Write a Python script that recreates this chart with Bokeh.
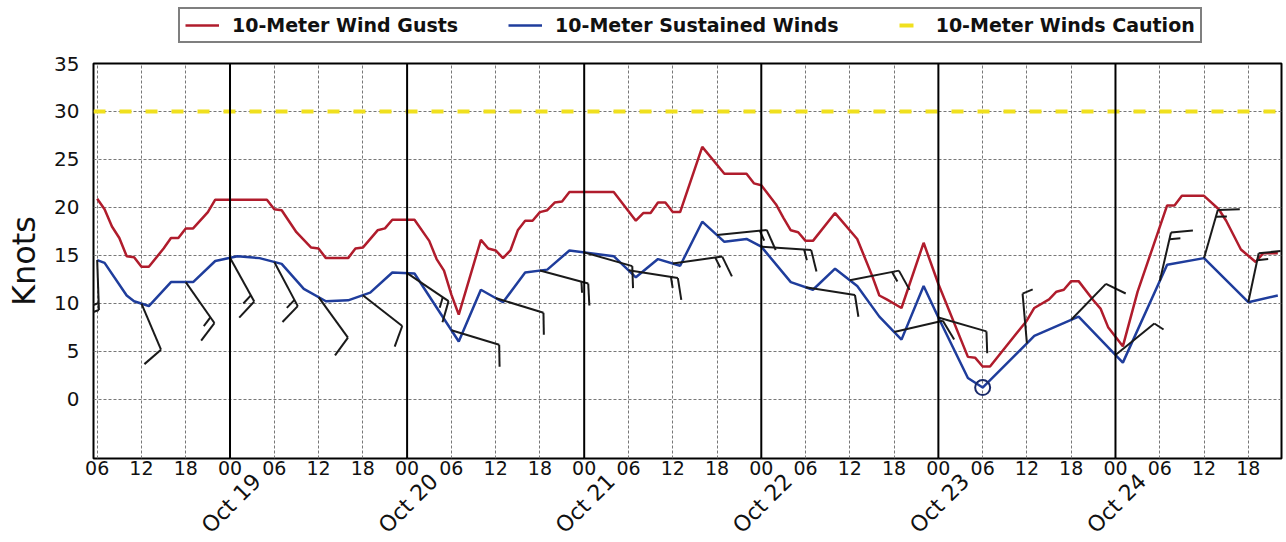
import numpy as np
from bokeh.plotting import figure
from bokeh.layouts import column
from bokeh.models import FixedTicker, Legend, LegendItem, Span, LinearAxis
from bokeh.embed import file_html
from bokeh.resources import INLINE

# ---- data (time = hours since Oct 18 00:00) ----
gust_hours = [6, 7, 8, 9, 10, 11, 12, 13, 15, 16, 17, 18, 19, 21, 22, 29, 30, 31, 33, 35,
              36, 37, 40, 41, 42, 44, 45, 46, 49, 51, 52, 53, 54, 55, 58, 59, 60, 61, 62, 63,
              64, 65, 66, 67, 68, 69, 70, 76, 79, 80, 81, 82, 83, 84, 85, 88, 91, 94, 95, 96,
              98, 99, 100, 101, 102, 103, 106, 109, 111, 112, 113, 115, 118, 120, 124, 125, 126, 127, 132, 133,
              135, 136, 137, 138, 139, 141, 142, 143, 145, 147, 149, 151, 152, 153, 156, 158, 159, 161, 163, 164, 166]
gust_knots = [20.9, 19.8, 18.0, 16.8, 14.9, 14.8, 13.8, 13.8, 15.7, 16.8, 16.8, 17.8, 17.8, 19.5, 20.8, 20.8, 19.8, 19.7, 17.4, 15.8,
              15.7, 14.7, 14.7, 15.7, 15.8, 17.6, 17.8, 18.7, 18.7, 16.5, 14.6, 13.4, 10.9, 8.8, 16.6, 15.7, 15.5, 14.7, 15.5, 17.6,
              18.6, 18.6, 19.5, 19.7, 20.5, 20.6, 21.6, 21.6, 18.6, 19.4, 19.4, 20.5, 20.5, 19.5, 19.5, 26.3, 23.5, 23.5, 22.5, 22.3,
              20.3, 18.9, 17.6, 17.4, 16.5, 16.5, 19.4, 16.7, 12.9, 10.8, 10.4, 9.5, 16.3, 12.0, 4.4, 4.3, 3.4, 3.4, 8.2, 9.5,
              10.4, 11.2, 11.4, 12.3, 12.3, 10.3, 9.4, 7.5, 5.5, 11.2, 15.7, 20.2, 20.2, 21.2, 21.2, 19.8, 18.6, 15.6, 14.3, 15.2, 15.2]

sust_hours = [6, 7, 10, 11, 13, 16, 19, 22, 25, 28, 31, 34, 37, 40, 43, 46, 49, 55, 58, 61,
              64, 67, 70, 76, 79, 82, 85, 88, 91, 94, 96, 100, 103, 106, 109, 112, 115, 118, 120, 124,
              126, 132, 133, 139, 145, 151, 156, 162, 166]
sust_knots = [14.5, 14.2, 10.8, 10.2, 9.7, 12.2, 12.2, 14.4, 14.9, 14.7, 14.1, 11.5, 10.2, 10.3, 11.1, 13.2, 13.1, 6.0, 11.4, 10.1,
              13.2, 13.5, 15.5, 14.9, 12.7, 14.6, 13.9, 18.5, 16.4, 16.7, 15.9, 12.2, 11.4, 13.6, 11.8, 8.6, 6.2, 11.8, 8.5, 2.2,
              1.2, 5.8, 6.6, 8.6, 3.8, 14.0, 14.7, 10.1, 10.8]

caution_knots = 30

# wind barbs: direction wind blows from (deg), speed (kt)
barb_hours = [6, 12, 18, 24, 30, 36, 42, 48, 54, 60, 66, 72, 78, 84, 90, 96, 102, 108, 114, 120,
              132, 138, 144, 150, 156, 162]
barb_dir_deg = [178, 157, 145, 151, 152, 144, 128, 124, 107, 107, 105, 106, 99, 82, 84, 94, 99, 79, 77, 106,
                355, 44, 51, 13, 16, 12]
barb_speed_kt = [15, 10, 15, 15, 15, 10, 10, 15, 10, 10, 15, 10, 15, 15, 15, 15, 10, 15, 10, 10,
                 5, 10, 5, 15, 15, 15]
calm_hours = [126]

hour_ticks = [6, 12, 18, 24, 30, 36, 42, 48, 54, 60, 66, 72, 78, 84, 90, 96, 102, 108, 114, 120,
              126, 132, 138, 144, 150, 156, 162]
hour_tick_labels = ["06", "12", "18", "00", "06", "12", "18", "00", "06", "12", "18", "00", "06", "12",
                    "18", "00", "06", "12", "18", "00", "06", "12", "18", "00", "06", "12", "18"]
day_hours = [24, 48, 72, 96, 120, 144]
day_labels = ["Oct 19", "Oct 20", "Oct 21", "Oct 22", "Oct 23", "Oct 24"]
y_ticks = [0, 5, 10, 15, 20, 25, 30, 35]
series_names = ["10-Meter Wind Gusts", "10-Meter Sustained Winds", "10-Meter Winds Caution"]

# ---- styles ----
GUST_C, SUST_C, CAUT_C = "#b01c2c", "#1f3d9c", "#f0e01e"
FONT = "DejaVu Sans"

# ---- layout ----
X0, X1 = 5.5, 166.5
Y0, Y1 = -6.2, 35
FW, FH = 1188, 395
LEG_H = 48

p = figure(frame_width=FW, frame_height=FH, x_range=(X0, X1), y_range=(Y0, Y1),
           output_backend="svg", toolbar_location=None,
           min_border_left=93, min_border_right=2, min_border_top=63 - LEG_H, min_border_bottom=70,
           background_fill_color="white", border_fill_color="white")
p.outline_line_color = "black"
p.outline_line_width = 2

px_x = FW / (X1 - X0)
px_y = FH / (Y1 - Y0)

# axes
p.xaxis.ticker = FixedTicker(ticks=hour_ticks)
p.xaxis.major_label_overrides = {h: l for h, l in zip(hour_ticks, hour_tick_labels)}
p.xaxis.major_label_text_font = FONT
p.xaxis.major_label_text_font_size = "19px"
p.xaxis.major_label_text_color = "#111111"
p.xaxis.major_tick_out = 0
p.xaxis.major_tick_in = 0
p.xaxis.minor_tick_line_color = None
p.xaxis.axis_line_color = None
p.xaxis.major_label_standoff = 2

# second bottom axis carrying the rotated date labels (centred under the 00 ticks)
shift = 27 / px_x
date_ticks = [h + shift for h in day_hours]
date_axis = LinearAxis(ticker=FixedTicker(ticks=date_ticks),
                       major_label_overrides={t: l for t, l in zip(date_ticks, day_labels)},
                       major_label_orientation=np.pi / 4,
                       major_label_text_font=FONT, major_label_text_font_size="22px",
                       major_label_text_color="#111111", major_label_standoff=0,
                       major_tick_out=0, major_tick_in=0, minor_tick_line_color=None,
                       axis_line_color=None)
p.add_layout(date_axis, "below")

p.yaxis.ticker = FixedTicker(ticks=y_ticks)
p.yaxis.major_label_text_font = FONT
p.yaxis.major_label_text_font_size = "20px"
p.yaxis.major_label_text_color = "#111111"
p.yaxis.major_tick_out = 0
p.yaxis.major_tick_in = 0
p.yaxis.minor_tick_line_color = None
p.yaxis.axis_line_color = None
p.yaxis.major_label_standoff = 14
p.yaxis.axis_label = "Knots"
p.yaxis.axis_label_text_font = FONT
p.yaxis.axis_label_text_font_size = "32px"
p.yaxis.axis_label_text_font_style = "normal"
p.yaxis.axis_label_text_color = "#111111"
p.yaxis.axis_label_standoff = 8

for g in (p.xgrid, p.ygrid):
    g.grid_line_color = "#777777"
    g.grid_line_width = 1
    g.grid_line_dash = "3 2"

for h in day_hours:
    p.add_layout(Span(location=h, dimension="height", line_color="black", line_width=2))

# caution line
p.line([X0, X1], [caution_knots, caution_knots], line_color=CAUT_C, line_width=4, line_dash="12 14")

# series
p.line(gust_hours, gust_knots, line_color=GUST_C, line_width=2.5)
p.line(sust_hours, sust_knots, line_color=SUST_C, line_width=2.5)

# wind barbs computed from direction/speed, sized in screen pixels
STAFF, FULL, HALF, GAP = 50.0, 22.0, 11.0, 7.0
TILT = np.radians(72)
base_y = np.interp(barb_hours, sust_hours, sust_knots)
xs0, ys0, xs1, ys1 = [], [], [], []
for h, yb, d, s in zip(barb_hours, base_y, barb_dir_deg, barb_speed_kt):
    ux, uy = np.sin(np.radians(d)), np.cos(np.radians(d))
    fx = ux * np.cos(TILT) + uy * np.sin(TILT)
    fy = -ux * np.sin(TILT) + uy * np.cos(TILT)
    tx, ty = STAFF * ux, STAFF * uy
    xs0.append(h); ys0.append(yb)
    xs1.append(h + tx / px_x); ys1.append(yb + ty / px_y)
    lens = [FULL] * (s // 10) + ([HALF] if s % 10 >= 5 else [])
    for k, L in enumerate(lens):
        sx = tx - k * GAP * ux
        sy = ty - k * GAP * uy
        xs0.append(h + sx / px_x); ys0.append(yb + sy / px_y)
        xs1.append(h + (sx + L * fx) / px_x); ys1.append(yb + (sy + L * fy) / px_y)
p.segment(xs0, ys0, xs1, ys1, line_color="#1a1a1a", line_width=2)

calm_y = np.interp(calm_hours, sust_hours, sust_knots)
p.scatter(calm_hours, calm_y, marker="circle", size=15, fill_color=None,
          line_color="#1a2a6a", line_width=2)

# ---- legend strip above the chart (its frame is aligned with the chart frame) ----
# the strip's ranges lie outside the data, so its series stay hidden; they only feed the legend glyphs
leg = figure(width=93 + FW + 2, height=LEG_H, output_backend="svg", toolbar_location=None,
             x_axis_type=None, y_axis_type=None, x_range=(-2, -1), y_range=(-2, -1), min_border=0,
             background_fill_color="white", border_fill_color="white")
leg.outline_line_color = None
leg.grid.visible = False
lr_g = leg.line(gust_hours, gust_knots, line_color=GUST_C, line_width=2.5)
lr_s = leg.line(sust_hours, sust_knots, line_color=SUST_C, line_width=2.5)
lr_c = leg.line([X0, X1], [caution_knots, caution_knots], line_color=CAUT_C, line_width=4,
                line_dash="14 20", line_dash_offset=24)
legend = Legend(items=[LegendItem(label=n, renderers=[r]) for n, r in zip(series_names, [lr_g, lr_s, lr_c])],
                orientation="horizontal", location=(178 - 93, LEG_H - 43), glyph_width=34, glyph_height=20,
                label_standoff=13, spacing=50, padding=5, margin=0,
                border_line_color="#000000", border_line_width=2,
                background_fill_color="white", background_fill_alpha=1.0,
                label_text_font=FONT, label_text_font_style="bold",
                label_text_font_size="19px", label_text_color="#111111")
leg.add_layout(legend)

layout = column(leg, p, spacing=0)
open("out.html", "w").write(file_html(layout, INLINE))
